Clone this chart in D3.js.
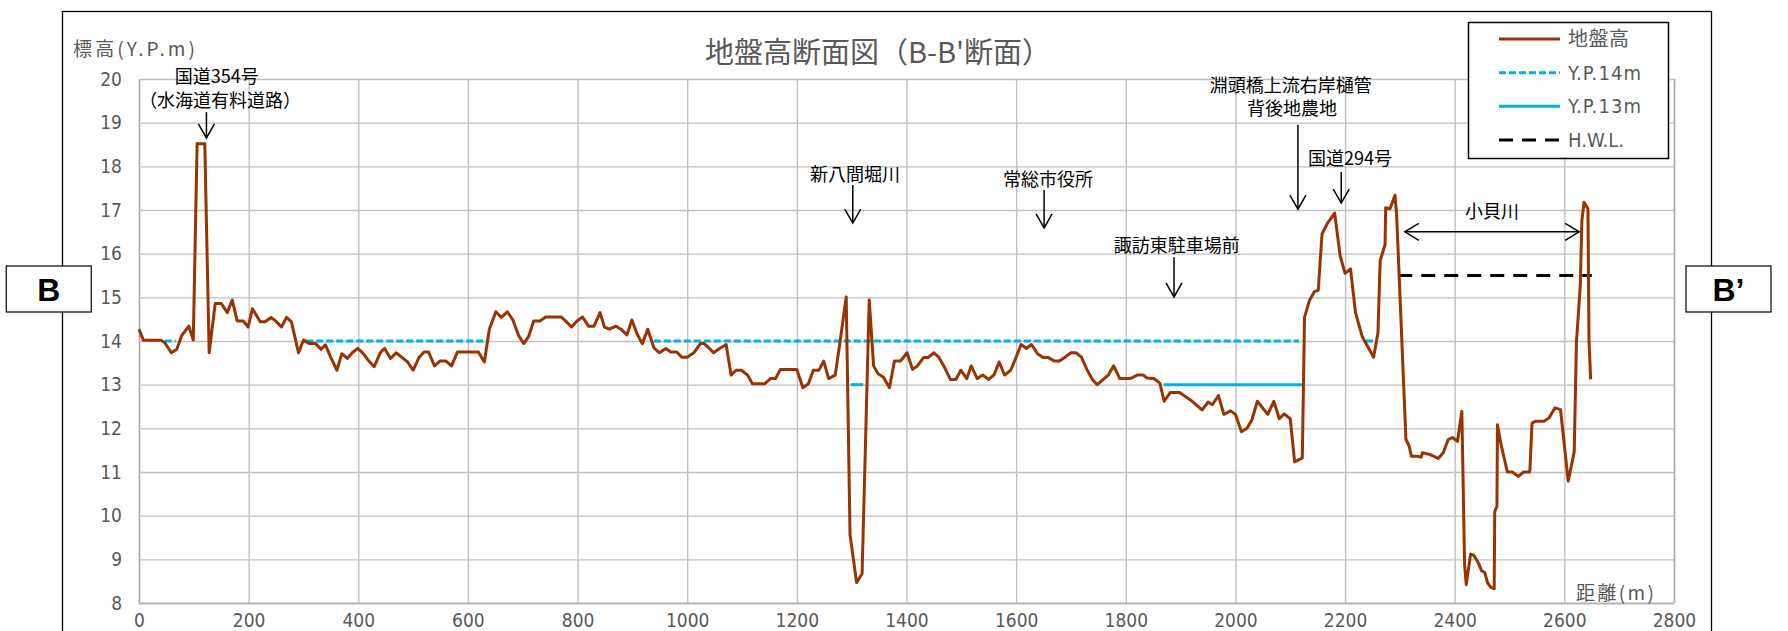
<!DOCTYPE html>
<html>
<head>
<meta charset="utf-8">
<script src="https://cdn.jsdelivr.net/npm/d3@7"></script>
<style>
  html, body { margin: 0; padding: 0; background: #fff; }
  svg { display: block; }
</style>
</head>
<body>
<div id="chart"></div>
<script>
// ground profile, distance (m) and elevation (Y.P. m)
const dist = [0, 8, 40, 47, 59, 69, 78, 91, 99, 106, 120, 128, 139, 150, 161, 170, 179, 190, 199, 207,
  221, 230, 241, 249, 260, 269, 278, 291, 300, 311, 322, 332, 340, 350, 361, 370, 380, 389, 399, 408,
  418, 429, 440, 448, 459, 469, 480, 490, 500, 511, 520, 528, 539, 549, 560, 570, 581, 619, 630, 639,
  651, 661, 672, 682, 693, 702, 711, 720, 731, 742, 770, 778, 789, 799, 809, 820, 830, 841, 849, 858,
  870, 879, 890, 899, 909, 918, 928, 939, 949, 961, 970, 981, 990, 1000, 1012, 1024, 1031, 1039, 1048, 1059,
  1071, 1080, 1089, 1099, 1110, 1119, 1141, 1152, 1161, 1170, 1200, 1211, 1221, 1230, 1240, 1249, 1258, 1270, 1279, 1290,
  1297, 1309, 1319, 1332, 1340, 1348, 1358, 1369, 1378, 1389, 1401, 1411, 1420, 1431, 1439, 1450, 1459, 1468, 1480, 1490,
  1499, 1510, 1518, 1529, 1539, 1550, 1560, 1569, 1579, 1590, 1600, 1609, 1619, 1628, 1639, 1649, 1659, 1670, 1679, 1689,
  1700, 1709, 1719, 1729, 1739, 1748, 1759, 1768, 1778, 1789, 1808, 1821, 1832, 1839, 1851, 1862, 1870, 1881, 1898, 1918,
  1939, 1950, 1958, 1969, 1979, 1991, 2000, 2011, 2021, 2030, 2040, 2059, 2070, 2080, 2089, 2100, 2108, 2122, 2126, 2135,
  2144, 2151, 2158, 2168, 2181, 2191, 2200, 2210, 2219, 2231, 2252, 2260, 2264, 2273, 2274, 2282, 2291, 2294, 2311, 2317,
  2321, 2332, 2339, 2341, 2355, 2370, 2379, 2388, 2396, 2405, 2413, 2418, 2421, 2429, 2435, 2443, 2449, 2455, 2460, 2466,
  2472, 2473, 2477, 2478, 2484, 2496, 2505, 2516, 2526, 2537, 2541, 2547, 2563, 2572, 2583, 2593, 2607, 2618, 2622, 2629,
  2632, 2636, 2643, 2645, 2648];
const elev = [14.27, 14.02, 14.02, 13.96, 13.73, 13.81, 14.13, 14.34, 14.02, 18.52, 18.52, 13.73, 14.86, 14.86, 14.65, 14.94, 14.46, 14.46, 14.32, 14.74,
  14.44, 14.44, 14.54, 14.46, 14.32, 14.54, 14.44, 13.73, 14.02, 13.94, 13.94, 13.81, 13.91, 13.62, 13.33, 13.71, 13.60, 13.73, 13.83, 13.73,
  13.56, 13.41, 13.73, 13.83, 13.60, 13.73, 13.62, 13.52, 13.33, 13.63, 13.75, 13.75, 13.43, 13.54, 13.54, 13.43, 13.75, 13.75, 13.52, 14.27,
  14.67, 14.54, 14.67, 14.48, 14.11, 13.94, 14.11, 14.46, 14.46, 14.55, 14.55, 14.46, 14.32, 14.46, 14.55, 14.34, 14.34, 14.65, 14.32, 14.27,
  14.34, 14.27, 14.14, 14.48, 14.15, 13.94, 14.27, 13.85, 13.73, 13.83, 13.75, 13.75, 13.63, 13.63, 13.73, 13.94, 13.94, 13.85, 13.73, 13.83,
  13.92, 13.22, 13.33, 13.33, 13.22, 13.02, 13.02, 13.14, 13.14, 13.35, 13.35, 12.93, 13.02, 13.33, 13.33, 13.54, 13.14, 13.22, 14.00, 15.01,
  9.56, 8.47, 8.67, 14.94, 13.43, 13.25, 13.17, 12.93, 13.54, 13.54, 13.73, 13.35, 13.43, 13.62, 13.62, 13.73, 13.63, 13.43, 13.12, 13.12,
  13.33, 13.14, 13.43, 13.14, 13.22, 13.12, 13.23, 13.52, 13.22, 13.33, 13.63, 13.92, 13.83, 13.92, 13.71, 13.62, 13.62, 13.54, 13.54, 13.63,
  13.73, 13.73, 13.63, 13.35, 13.12, 13.00, 13.12, 13.22, 13.43, 13.14, 13.14, 13.22, 13.22, 13.15, 13.14, 13.04, 12.62, 12.82, 12.82, 12.65,
  12.42, 12.60, 12.54, 12.75, 12.32, 12.40, 12.32, 11.92, 12.00, 12.19, 12.62, 12.32, 12.62, 12.22, 12.33, 12.22, 11.23, 11.32, 14.54, 14.93,
  15.13, 15.16, 16.45, 16.70, 16.93, 15.95, 15.55, 15.65, 14.65, 14.11, 13.63, 14.19, 15.84, 16.21, 17.05, 17.03, 17.34, 16.90, 11.75, 11.59,
  11.36, 11.36, 11.34, 11.44, 11.40, 11.31, 11.44, 11.74, 11.79, 11.70, 12.39, 8.88, 8.42, 9.12, 9.09, 8.92, 8.74, 8.69, 8.46, 8.36,
  8.33, 10.10, 10.21, 12.08, 11.66, 11.00, 11.00, 10.90, 11.00, 11.00, 12.12, 12.16, 12.16, 12.24, 12.47, 12.43, 10.79, 11.46, 13.96, 15.26,
  16.76, 17.18, 17.03, 14.00, 13.12];

// reference levels: [from, to] in metres
const yp14Level = 14;
const yp14Segments = [[47, 67], [305, 630], [939, 2116], [2238, 2254]];
const yp13Level = 13;
const yp13Segments = [[1298, 1321], [1869, 2125]];
const hwlLevel = 15.5;
const hwlSegments = [[2297, 2650]];

const xTicks = [0, 200, 400, 600, 800, 1000, 1200, 1400, 1600, 1800, 2000, 2200, 2400, 2600, 2800];
const yTicks = [8, 9, 10, 11, 12, 13, 14, 15, 16, 17, 18, 19, 20];

const legendItems = ['地盤高', 'Y.P.14m', 'Y.P.13m', 'H.W.L.'];

// annotations: label lines, text anchor (m, elev) and arrow (m, top elev, bottom elev)
const notes = [
  { lines: ['国道354号', '（水海道有料道路）'], tx: [142, 148], ty: [19.91, 19.36], ax: 123, a1: 19.24, a2: 18.65 },
  { lines: ['新八間堀川'], tx: [1306], ty: [17.66], ax: 1302, a1: 17.57, a2: 16.70 },
  { lines: ['常総市役所'], tx: [1658], ty: [17.55], ax: 1651, a1: 17.46, a2: 16.59 },
  { lines: ['諏訪東駐車場前'], tx: [1893], ty: [16.04], ax: 1888, a1: 15.92, a2: 15.01 },
  { lines: ['淵頭橋上流右岸樋管', '背後地農地'], tx: [2101, 2103], ty: [19.70, 19.18], ax: 2114, a1: 18.95, a2: 17.02 },
  { lines: ['国道294号'], tx: [2209], ty: [18.03], ax: 2193, a1: 17.87, a2: 17.16 }
];
const riverLabel = '小貝川';
const riverSpan = [2309, 2627];
const riverArrowElev = 16.5;
const riverTextElev = 16.82;

const W = 1788, H = 631;
const plotL = 139, plotR = 1674, plotT = 79, plotB = 603;

const numFont = "'Liberation Sans Narrow', 'DejaVu Sans Condensed', 'Roboto', sans-serif";
const jpFont = "'Noto Sans CJK JP', 'Noto Sans', sans-serif";
const gray = '#595959';

const svg = d3.select('#chart').append('svg')
    .attr('width', W)
    .attr('height', H)
    .attr('viewBox', `0 0 ${W} ${H}`);

svg.append('rect').attr('width', W).attr('height', H).attr('fill', '#fff');

// outer chart frame
svg.append('rect')
    .attr('x', 62.5).attr('y', 11.5)
    .attr('width', 1711.5 - 62.5).attr('height', 660)
    .attr('fill', 'none').attr('stroke', '#000').attr('stroke-width', 1.3);

const x = d3.scaleLinear().domain([0, 2800]).range([plotL, plotR]);
const y = d3.scaleLinear().domain([8, 20]).range([plotB, plotT]);

// grid + axes
const gx = svg.append('g')
    .attr('transform', `translate(0,${plotB})`)
    .call(d3.axisBottom(x).tickValues(xTicks).tickSize(-(plotB - plotT)).tickPadding(11).tickFormat(d3.format('d')));
const gy = svg.append('g')
    .attr('transform', `translate(${plotL},0)`)
    .call(d3.axisLeft(y).tickValues(yTicks).tickSize(-(plotR - plotL)).tickPadding(17).tickFormat(d3.format('d')));

[gx, gy].forEach(g => {
  g.select('.domain').remove();
  g.selectAll('.tick line').attr('stroke', '#c0c0c0').attr('stroke-width', 1.4);
  g.selectAll('.tick text')
      .attr('fill', gray)
      .style('font-family', numFont)
      .style('font-size', '19px');
});
gx.selectAll('.tick line').filter(d => d === 0 || d === 2800).attr('stroke', '#a6a6a6').attr('stroke-width', 1.6);
gy.selectAll('.tick line').filter(d => d === 8).attr('stroke', '#b4b4b4').attr('stroke-width', 2);

// title and axis titles
svg.append('text')
    .attr('x', 878).attr('y', 63)
    .attr('text-anchor', 'middle')
    .attr('fill', gray)
    .style('font-family', jpFont)
    .style('font-size', '29px')
    .text("地盤高断面図（B-B'断面）");

svg.append('text')
    .attr('x', 73).attr('y', 56)
    .attr('fill', gray)
    .attr('textLength', 122).attr('lengthAdjust', 'spacing')
    .style('font-family', jpFont)
    .style('font-size', '19px')
    .text('標高(Y.P.m)');

svg.append('text')
    .attr('x', 1576).attr('y', 600)
    .attr('fill', gray)
    .attr('textLength', 78).attr('lengthAdjust', 'spacing')
    .style('font-family', jpFont)
    .style('font-size', '19px')
    .text('距離(m)');

// reference lines
function drawLevel(segs, level, color, dash) {
  svg.append('g').selectAll('line')
      .data(segs)
      .enter().append('line')
      .attr('x1', d => x(d[0]))
      .attr('x2', d => x(d[1]))
      .attr('y1', y(level))
      .attr('y2', y(level))
      .attr('stroke', color)
      .attr('stroke-width', 3)
      .attr('stroke-dasharray', dash);
}
drawLevel(yp14Segments, yp14Level, '#00b0f0', '7,3');
drawLevel(yp13Segments, yp13Level, '#00b0f0', null);
drawLevel(hwlSegments, hwlLevel, '#000', '14,9');

// ground line
const ground = dist.map((d, i) => ({ d: d, e: elev[i] }));
svg.append('path')
    .datum(ground)
    .attr('fill', 'none')
    .attr('stroke', '#993300')
    .attr('stroke-width', 3)
    .attr('stroke-linejoin', 'round')
    .attr('d', d3.line().x(p => x(p.d)).y(p => y(p.e)));

// annotations
function arrowHead(g, px, py, dir) {
  let pts;
  if (dir === 'down') pts = [[px - 8, py - 14], [px, py], [px + 8, py - 14]];
  else if (dir === 'left') pts = [[px + 14, py - 8.5], [px, py], [px + 14, py + 8.5]];
  else pts = [[px - 14, py - 8.5], [px, py], [px - 14, py + 8.5]];
  g.append('polyline')
      .attr('points', pts.map(p => p.join(',')).join(' '))
      .attr('fill', 'none').attr('stroke', '#000').attr('stroke-width', 1.5);
}

const ann = svg.append('g');
notes.forEach(n => {
  n.lines.forEach((t, i) => {
    ann.append('text')
        .attr('x', x(n.tx[i])).attr('y', y(n.ty[i]))
        .attr('text-anchor', 'middle')
        .attr('fill', '#000')
        .style('font-family', jpFont)
        .style('font-size', '18px')
        .text(t);
  });
  ann.append('line')
      .attr('x1', x(n.ax)).attr('x2', x(n.ax))
      .attr('y1', y(n.a1)).attr('y2', y(n.a2))
      .attr('stroke', '#000').attr('stroke-width', 1.5);
  arrowHead(ann, x(n.ax), y(n.a2), 'down');
});

ann.append('text')
    .attr('x', x((riverSpan[0] + riverSpan[1]) / 2)).attr('y', y(riverTextElev))
    .attr('text-anchor', 'middle')
    .style('font-family', jpFont)
    .style('font-size', '18px')
    .text(riverLabel);
ann.append('line')
    .attr('x1', x(riverSpan[0])).attr('x2', x(riverSpan[1]))
    .attr('y1', y(riverArrowElev)).attr('y2', y(riverArrowElev))
    .attr('stroke', '#000').attr('stroke-width', 1.5);
arrowHead(ann, x(riverSpan[0]), y(riverArrowElev), 'left');
arrowHead(ann, x(riverSpan[1]), y(riverArrowElev), 'right');

// legend
const lg = svg.append('g');
lg.append('rect')
    .attr('x', 1468.5).attr('y', 22.5).attr('width', 200).attr('height', 136)
    .attr('fill', '#fff').attr('stroke', '#000').attr('stroke-width', 1.5);
const legendStyle = [
  { color: '#993300', dash: null, len: 61 },
  { color: '#00b0f0', dash: '7,3', len: 73 },
  { color: '#00b0f0', dash: null, len: 73 },
  { color: '#000', dash: '14,9', len: 56 }
];
const legendY = d3.scalePoint().domain(legendItems).range([39, 140]);
legendItems.forEach((name, i) => {
  const st = legendStyle[i];
  const ly = legendY(name);
  lg.append('line')
      .attr('x1', 1499).attr('x2', 1560)
      .attr('y1', ly).attr('y2', ly)
      .attr('stroke', st.color).attr('stroke-width', 3)
      .attr('stroke-dasharray', st.dash);
  lg.append('text')
      .attr('x', 1568).attr('y', ly + 7)
      .attr('fill', gray)
      .attr('textLength', st.len).attr('lengthAdjust', 'spacing')
      .style('font-family', i === 0 ? jpFont : numFont)
      .style('font-size', '20px')
      .text(name);
});

// section end markers
[{ t: 'B', cx: 48.75 }, { t: 'B’', cx: 1728.5 }].forEach(b => {
  svg.append('rect')
      .attr('x', b.cx - 42.5).attr('y', 266).attr('width', 85).attr('height', 46)
      .attr('fill', '#fff').attr('stroke', '#000').attr('stroke-width', 1.2);
  svg.append('text')
      .attr('x', b.cx).attr('y', 301)
      .attr('text-anchor', 'middle')
      .style('font-family', "'Liberation Sans', Arial, sans-serif")
      .style('font-size', '32px')
      .style('font-weight', 'bold')
      .text(b.t);
});
</script>
</body>
</html>
